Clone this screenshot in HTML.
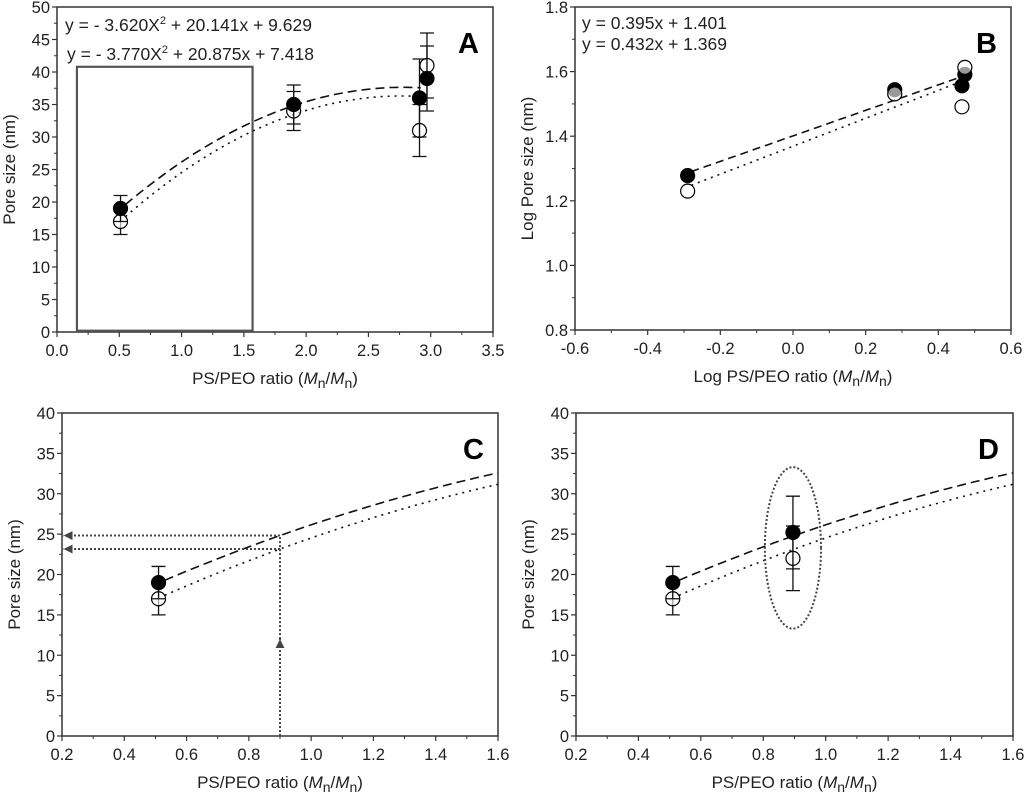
<!DOCTYPE html>
<html><head><meta charset="utf-8"><style>
html,body{margin:0;padding:0;background:#fff;}
svg{display:block;font-family:"Liberation Sans",Arial,sans-serif;}
</style></head><body>
<svg id="fig" width="1024" height="796" viewBox="0 0 1024 796" xmlns="http://www.w3.org/2000/svg">
<defs>
<marker id="arrL" viewBox="0 0 10 10" refX="10" refY="5" markerWidth="4.5" markerHeight="4.5" orient="auto"><path d="M0,0 L10,5 L0,10 z" fill="#444"/></marker>
</defs>
</svg>
<script>
// ---- Data ----
const aFilledX=[0.51,1.9,2.91,2.97];
const aFilledY=[19,35,36,39];
const aFilledErr=[2,3,6,5];
const aOpenX=[0.51,1.9,2.91,2.97];
const aOpenY=[17,34,31,41];
const aOpenErr=[2,3,4,5];
const fitFilled=[-3.620,20.141,9.629];
const fitOpen=[-3.770,20.875,7.418];
const bFilledX=[-0.29,0.28,0.465,0.473];
const bFilledY=[1.278,1.544,1.556,1.591];
const bOpenX=[-0.29,0.28,0.465,0.473];
const bOpenY=[1.23,1.531,1.491,1.613];
const linFilled=[0.395,1.401];
const linOpen=[0.432,1.369];
const cFilledX=[0.51];const cFilledY=[19];const cFilledErr=[2];
const cOpenX=[0.51];const cOpenY=[17];const cOpenErr=[2];
const dFilledX=[0.51,0.895];const dFilledY=[19,25.2];const dFilledErr=[2,4.5];
const dOpenX=[0.51,0.895];const dOpenY=[17,22];const dOpenErr=[2,4];
const aXTicks=["0.0","0.5","1.0","1.5","2.0","2.5","3.0","3.5"];
const aYTicks=["0","5","10","15","20","25","30","35","40","45","50"];
const bXTicks=["-0.6","-0.4","-0.2","0.0","0.2","0.4","0.6"];
const bYTicks=["0.8","1.0","1.2","1.4","1.6","1.8"];
const cXTicks=["0.2","0.4","0.6","0.8","1.0","1.2","1.4","1.6"];
const cYTicks=["0","5","10","15","20","25","30","35","40"];

const svg=document.getElementById('fig');
const NS="http://www.w3.org/2000/svg";
function mk(tag,attrs,parent,text){const e=document.createElementNS(NS,tag);for(const k in attrs)e.setAttribute(k,attrs[k]);if(text!==undefined)e.textContent=text;(parent||svg).appendChild(e);return e;}

function panel(cfg){
  const g=mk('g',{});
  
  
  const sx=v=>cfg.x0+(v-cfg.xmin)/(cfg.xmax-cfg.xmin)*(cfg.x1-cfg.x0);
  const sy=v=>cfg.y0-(v-cfg.ymin)/(cfg.ymax-cfg.ymin)*(cfg.y0-cfg.y1);
  const frame=mk('rect',{x:cfg.x0,y:cfg.y1,width:cfg.x1-cfg.x0,height:cfg.y0-cfg.y1,fill:'none',stroke:'#333','stroke-width':1.5},g);
  
  
  const nx=cfg.xt.length;
  for(let i=0;i<nx;i++){
    const v=parseFloat(cfg.xt[i]);const X=sx(v);
    mk('line',{x1:X,y1:cfg.y0,x2:X,y2:cfg.y0+5,stroke:'#333','stroke-width':1.2},g);
    const t=mk('text',{x:X,y:cfg.y0+24,'text-anchor':'middle','font-size':16.5,fill:'#222'},g,cfg.xt[i]);
    
    
    if(i<nx-1){const m=(v+parseFloat(cfg.xt[i+1]))/2;const Xm=sx(m);mk('line',{x1:Xm,y1:cfg.y0,x2:Xm,y2:cfg.y0+3,stroke:'#333','stroke-width':1},g);}
  }
  const ny=cfg.yt.length;
  for(let i=0;i<ny;i++){
    const v=parseFloat(cfg.yt[i]);const Y=sy(v);
    mk('line',{x1:cfg.x0,y1:Y,x2:cfg.x0-5,y2:Y,stroke:'#333','stroke-width':1.2},g);
    const t=mk('text',{x:cfg.x0-7,y:Y+6,'text-anchor':'end','font-size':16.5,fill:'#222'},g,cfg.yt[i]);
    
    
    if(i<ny-1){const m=(v+parseFloat(cfg.yt[i+1]))/2;const Ym=sy(m);mk('line',{x1:cfg.x0,y1:Ym,x2:cfg.x0-3,y2:Ym,stroke:'#333','stroke-width':1},g);}
  }
  const xt=mk('text',{x:(cfg.x0+cfg.x1)/2,y:cfg.y0+52,'text-anchor':'middle','font-size':17,fill:'#222'},g);
  
  
  xt.innerHTML=cfg.xtitle;
  const yt=mk('text',{x:0,y:0,'text-anchor':'middle','font-size':17,fill:'#222',transform:`translate(${cfg.x0-42},${(cfg.y0+cfg.y1)/2}) rotate(-90)`},g,cfg.ytitle);
  
  
  const L=mk('text',{x:cfg.x1-14,y:cfg.y1+46,'text-anchor':'end','font-size':29,'font-weight':'bold',fill:'#000'},g,cfg.letter);
  
  
  return {g,sx,sy};
}
function curve(p,f,xa,xb,dash,name){
  let d='';for(let i=0;i<=60;i++){const x=xa+(xb-xa)*i/60;d+=(i?'L':'M')+p.sx(x).toFixed(1)+','+p.sy(f(x)).toFixed(1);}
  const e=mk('path',{d,fill:'none',stroke:'#111','stroke-width':1.6,'stroke-dasharray':dash},p.g);
  
  
}
function points(p,xs,ys,errs,filled,name){
  for(let i=0;i<xs.length;i++){
    const X=p.sx(xs[i]),Y=p.sy(ys[i]);
    if(errs){const t=p.sy(ys[i]+errs[i]),b=p.sy(ys[i]-errs[i]);
      const eb=mk('path',{d:`M${X},${t}L${X},${b}M${X-7},${t}L${X+7},${t}M${X-7},${b}L${X+7},${b}`,stroke:'#111','stroke-width':1.3,fill:'none'},p.g);
      
      }
    const c=mk('circle',{cx:X,cy:Y,r:7,fill:filled?'#000':'#fff','fill-opacity':filled?1:0.6,stroke:'#000','stroke-width':1.2},p.g);
    
    
  }
}
const quad=c=>x=>c[0]*x*x+c[1]*x+c[2];
const lin=c=>x=>c[0]*x+c[1];
const sub='<tspan font-style="italic">M</tspan><tspan font-size="14" dy="4">n</tspan><tspan dy="-4">/</tspan><tspan font-style="italic">M</tspan><tspan font-size="14" dy="4">n</tspan><tspan dy="-4">)</tspan>';

// Panel A
const A=panel({name:'panel-a',x0:57,x1:493,y0:332,y1:7,xmin:0,xmax:3.5,ymin:0,ymax:50,xt:aXTicks,yt:aYTicks,xtitle:'PS/PEO ratio ('+sub,ytitle:'Pore size (nm)',letter:'A'});
const box=mk('rect',{x:A.sx(0.16),y:A.sy(40.8),width:A.sx(1.57)-A.sx(0.16),height:A.sy(0.2)-A.sy(40.8),fill:'none',stroke:'#555','stroke-width':2.2},A.g);


curve(A,quad(fitFilled),0.55,2.92,'9,5','fit-curve-filled');
curve(A,quad(fitOpen),0.55,2.92,'2,5','fit-curve-open');
points(A,aOpenX,aOpenY,aOpenErr,false,'open-point');
points(A,aFilledX,aFilledY,aFilledErr,true,'filled-point');
const e1=mk('text',{x:65,y:31,'font-size':17.5,fill:'#222'},A.g);e1.innerHTML='y = - 3.620X<tspan font-size="11" dy="-7">2</tspan><tspan dy="7"> + 20.141x + 9.629</tspan>';


const e2=mk('text',{x:67,y:60,'font-size':17.5,fill:'#222'},A.g);e2.innerHTML='y = - 3.770X<tspan font-size="11" dy="-7">2</tspan><tspan dy="7"> + 20.875x + 7.418</tspan>';



// Panel B
const B=panel({name:'panel-b',x0:575,x1:1011,y0:330,y1:7,xmin:-0.6,xmax:0.6,ymin:0.8,ymax:1.8,xt:bXTicks,yt:bYTicks,xtitle:'Log PS/PEO ratio ('+sub,ytitle:'Log Pore size (nm)',letter:'B'});
curve(B,lin(linFilled),-0.28,0.465,'8,5','fit-line-filled');
curve(B,lin(linOpen),-0.28,0.465,'2,5','fit-line-open');
points(B,bFilledX,bFilledY,null,true,'filled-point');
points(B,bOpenX,bOpenY,null,false,'open-point');
const e3=mk('text',{x:582,y:29,'font-size':17.5,fill:'#222'},B.g,'y = 0.395x + 1.401');


const e4=mk('text',{x:582,y:50,'font-size':17.5,fill:'#222'},B.g,'y = 0.432x + 1.369');



// Panel C
const C=panel({name:'panel-c',x0:62,x1:498,y0:736,y1:413,xmin:0.2,xmax:1.6,ymin:0,ymax:40,xt:cXTicks,yt:cYTicks,xtitle:'PS/PEO ratio ('+sub,ytitle:'Pore size (nm)',letter:'C'});
curve(C,quad(fitFilled),0.53,1.6,'9,5','fit-curve-filled');
curve(C,quad(fitOpen),0.53,1.6,'2,5','fit-curve-open');
points(C,cOpenX,cOpenY,cOpenErr,false,'open-point');
points(C,cFilledX,cFilledY,cFilledErr,true,'filled-point');
const guideX=0.9, guideY1=quad(fitFilled)(0.9), guideY2=quad(fitOpen)(0.9);
const ar1=mk('line',{x1:C.sx(guideX),y1:C.sy(0),x2:C.sx(guideX),y2:C.sy(12),stroke:'#444','stroke-width':2,'stroke-dasharray':'2,2','marker-end':'url(#arrL)'},C.g);

mk('line',{x1:C.sx(guideX),y1:C.sy(11.5),x2:C.sx(guideX),y2:C.sy(guideY1),stroke:'#444','stroke-width':2,'stroke-dasharray':'2,2'},C.g);
[guideY1,guideY2].forEach(v=>{const a=mk('line',{x1:C.sx(guideX),y1:C.sy(v),x2:C.sx(0.205),y2:C.sy(v),stroke:'#444','stroke-width':2,'stroke-dasharray':'2,2','marker-end':'url(#arrL)'},C.g);
});

// Panel D
const D=panel({name:'panel-d',x0:576,x1:1013,y0:736,y1:413,xmin:0.2,xmax:1.6,ymin:0,ymax:40,xt:cXTicks,yt:cYTicks,xtitle:'PS/PEO ratio ('+sub,ytitle:'Pore size (nm)',letter:'D'});
curve(D,quad(fitFilled),0.53,1.6,'9,5','fit-curve-filled');
curve(D,quad(fitOpen),0.53,1.6,'2,5','fit-curve-open');
points(D,dOpenX,dOpenY,dOpenErr,false,'open-point');
points(D,dFilledX,dFilledY,dFilledErr,true,'filled-point');
const el=mk('ellipse',{cx:D.sx(0.895),cy:D.sy(23.3),rx:D.sx(0.985)-D.sx(0.895),ry:D.sy(13.3)-D.sy(23.3),fill:'none',stroke:'#444','stroke-width':2,'stroke-dasharray':'2,2'},D.g);


</script>
</body></html>
